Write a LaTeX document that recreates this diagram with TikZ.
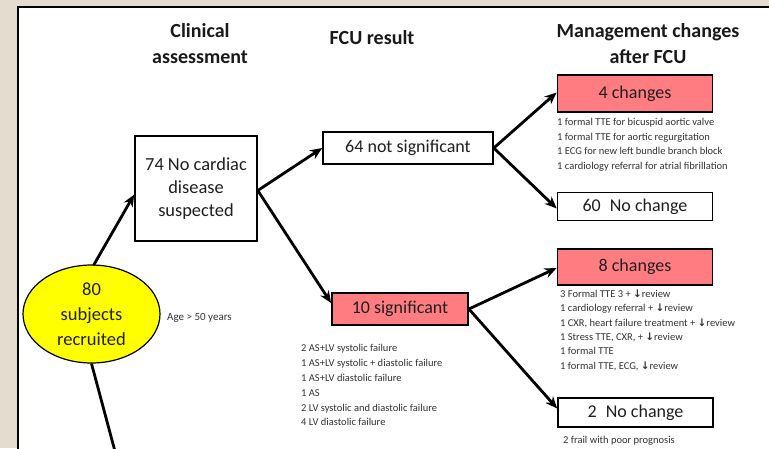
\documentclass[tikz,border=0pt]{standalone}
\usepackage{fontspec}
\setmainfont{Carlito}
\newfontfamily\dvfont{DejaVu Sans}
\usetikzlibrary{arrows.meta,shapes.geometric,calc}
\definecolor{bgbeige}{HTML}{E4DCCF}
\definecolor{salmon}{HTML}{FF7C80}
\definecolor{ellyellow}{HTML}{FFFF00}
\newcommand{\dn}{{\dvfont\bfseries ↓}}
\tikzset{
  boxtext/.style={font=\fontsize{18}{23}\selectfont, text=black!88},
  whitebox/.style={draw=black, line width=1.6pt, fill=white, boxtext, inner sep=0pt},
  redbox/.style={draw=black, line width=1.8pt, fill=salmon, boxtext, inner sep=0pt},
  header/.style={font=\fontsize{20}{26}\selectfont\bfseries, align=center, text=black!90},
  smalllist/.style={font=\fontsize{10.5}{14.4}\selectfont, align=left, anchor=north west, inner sep=0pt, text=black!80},
  flow/.style={line width=2.8pt, -{Stealth[length=12pt,width=10pt]}},
  plainline/.style={line width=2.8pt}
}
\begin{document}
\begin{tikzpicture}[x=1pt,y=-1pt]
\useasboundingbox (0,0) rectangle (769,448);
\clip (0,0) rectangle (769,448);
\fill[bgbeige] (0,0) rectangle (769,448);
\filldraw[fill=white, draw=black, line width=2pt] (18,7) rectangle (790,470);

% headers
\node[header] (hclin) at (200,44) {Clinical\\assessment};
\node[header] (hfcu) at (372,38) {FCU result};
\node[header] (hman) at (648,44) {Management changes\\after FCU};

% nodes
\node[draw=black, line width=1.2pt, fill=ellyellow, ellipse, minimum width=137pt, minimum height=98pt, inner sep=0pt,
      align=center, font=\fontsize{18.5}{25}\selectfont, text=black!88] (ell) at (91.5,314) {80\\subjects\\recruited};
\node[font=\fontsize{11}{13}\selectfont, anchor=west, inner sep=0pt, text=black!80] (age) at (167,318) {Age > 50 years};

\node[whitebox, minimum width=122pt, minimum height=105pt, align=center, font=\fontsize{18.4}{23}\selectfont] (b74) at (196,188.5) {74 No cardiac\\disease\\suspected};

\node[whitebox, minimum width=170pt, minimum height=32pt] (b64) at (408,148) {64 not significant};
\node[redbox, minimum width=136pt, minimum height=32pt] (b10) at (400,309) {10 significant};

\node[redbox, minimum width=155pt, minimum height=37pt] (b4) at (635,93.5) {4 changes};
\node[whitebox, minimum width=155pt, minimum height=28pt] (b60) at (635,206.5) {60\enspace No change};
\node[redbox, minimum width=155pt, minimum height=36pt] (b8) at (635,267) {8 changes};
\node[whitebox, minimum width=155pt, minimum height=29pt] (b2) at (635.5,412.5) {2\enspace No change};

% lists
\node[smalllist] (l4) at (557,118.5) {1 formal TTE for bicuspid aortic valve\\1 formal TTE for aortic regurgitation\\1 ECG for new left bundle branch block\\1 cardiology referral for atrial fibrillation};
\node[smalllist] (l8) at (560,289.5) {3 Formal TTE 3 + \dn review\\1 cardiology referral + \dn review\\1 CXR, heart failure treatment + \dn review\\1 Stress TTE, CXR, + \dn review\\1 formal TTE\\1 formal TTE, ECG, \dn review};
\node[smalllist, font=\fontsize{10.5}{14.9}\selectfont] (l10) at (301,344) {2 AS+LV systolic failure\\1 AS+LV systolic + diastolic failure\\1 AS+LV diastolic failure\\1 AS\\2 LV systolic and diastolic failure\\4 LV diastolic failure};
\node[smalllist, anchor=west] (frail) at (563,441) {2 frail with poor prognosis};

% connectors
\coordinate (down) at (120,470);
\draw[flow] ($(ell.north)+(2,1)$) -- ($(b74.west)+(0,6)$);
\draw[plainline] (ell.south) -- (down);
\draw[flow] ($(b74.east)+(0,2)$) -- (b64.west);
\draw[flow] ($(b74.east)+(0,2)$) -- ($(b10.west)+(0,-6)$);
\draw[flow] (b64.east) -- ($(b4.west)+(0,-1)$);
\draw[flow] (b64.east) -- ($(b60.west)+(0,2)$);
\draw[flow] (b10.east) -- ($(b8.west)+(0,1)$);
\draw[flow] (b10.east) -- ($(b2.west)+(0,-4)$);
\end{tikzpicture}
\end{document}
